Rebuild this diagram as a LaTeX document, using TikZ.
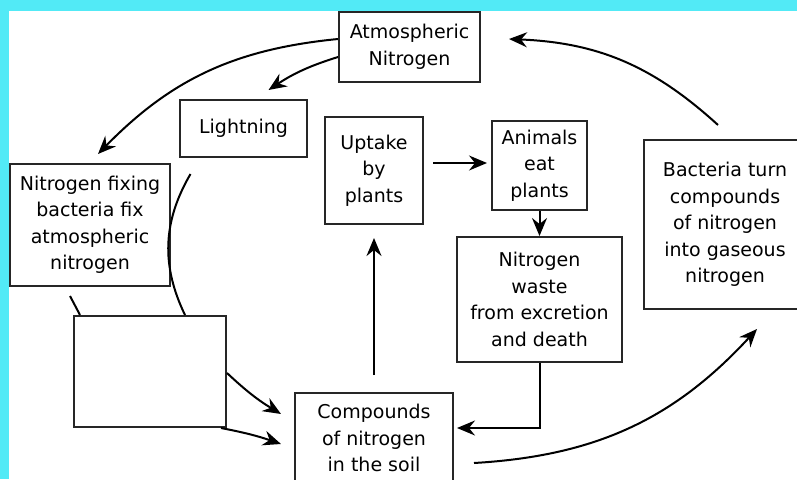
\documentclass[tikz,border=0pt]{standalone}
\usepackage{fontspec}
\setmainfont{DejaVu Sans}
\usepackage{xcolor}
\usepackage{tikz}
\usetikzlibrary{arrows.meta}
\definecolor{frame}{RGB}{82,234,246}

\begin{document}
\begin{tikzpicture}[x=1pt,y=-1pt]
						\tikzstyle{box}=[draw=black!85,line width=2pt,fill=white,align=center,inner sep=0pt,font=\fontsize{19}{26.5}\selectfont]
						\tikzstyle{arr}=[line width=2pt,-{Stealth[length=18pt,width=15pt,inset=6pt]}]
						\useasboundingbox (0,0) rectangle (797,479);
						\clip (0,0) rectangle (797,479);
						\fill[white] (0,0) rectangle (797,479);
						\fill[frame] (0,0) rectangle (797,11);
						\fill[frame] (0,0) rectangle (9,479);

						\node[box,minimum width=141pt,minimum height=70pt](atmos) at (409.5,47) {Atmospheric\\Nitrogen};
						\node[box,minimum width=127pt,minimum height=57pt](light) at (243.5,128.5) {Lightning};
						\node[box,minimum width=160pt,minimum height=122pt](fix) at (90,225) {Nitrogen fixing\\bacteria fix\\atmospheric\\nitrogen};
						\node[box,minimum width=98pt,minimum height=107pt](uptake) at (374,170.5) {Uptake\\by\\plants};
						\node[box,minimum width=95pt,minimum height=89pt](animals) at (539.5,165.5) {Animals\\eat\\plants};
						\node[box,minimum width=165pt,minimum height=125pt](waste) at (539.5,299.5) {Nitrogen\\waste\\from excretion\\and death};
						\node[box,minimum width=162pt,minimum height=169pt](bact) at (725,224.5) {Bacteria turn\\compounds\\of nitrogen\\into gaseous\\nitrogen};
						\node[box,minimum width=152pt,minimum height=111pt](empty) at (150,371.5) {};
						\node[box,minimum width=158pt,minimum height=90pt](soil) at (374,438) {Compounds\\of nitrogen\\in the soil};

						\draw[arr]([yshift=8pt]atmos.west) to[bend right=20] ([xshift=8pt,yshift=9pt]fix.north);
						\draw[arr]([yshift=-10pt]atmos.west) to[bend right=8] ([xshift=25pt,yshift=9pt]light.north);
						\draw[line width=2pt]([xshift=-53pt,yshift=-16pt]light.south) to[bend right=28] ([xshift=35pt]empty.north);
						\draw[line width=2pt]([xshift=-20pt,yshift=-9pt]fix.south) -- ([xshift=-70pt]empty.north);
						\draw[arr]([yshift=-1.5pt]empty.east) to[bend right=6] ([xshift=-13pt,yshift=24pt]soil.west);
						\draw[arr]([xshift=-6pt]empty.south east) to[bend left=4] ([xshift=-13pt,yshift=-6pt]soil.west);
						\draw[arr]([yshift=17pt]soil.north) -- ([yshift=-13pt]uptake.south);
						\draw[arr]([xshift=9pt,yshift=7.5pt]uptake.east) -- ([xshift=-4pt,yshift=2.5pt]animals.west);
						\draw[arr](animals.south) -- (waste.north);
						\draw[arr](waste.south) |- ([xshift=3pt,yshift=10pt]soil.east);
						\draw[arr]([xshift=20pt,yshift=-25pt]soil.east) to[bend right=22] ([xshift=32pt,yshift=-19pt]bact.south);
						\draw[arr]([xshift=-7pt,yshift=14pt]bact.north) to[bend right=20] ([xshift=28pt,yshift=8pt]atmos.east);
					\end{tikzpicture}
\end{document}
